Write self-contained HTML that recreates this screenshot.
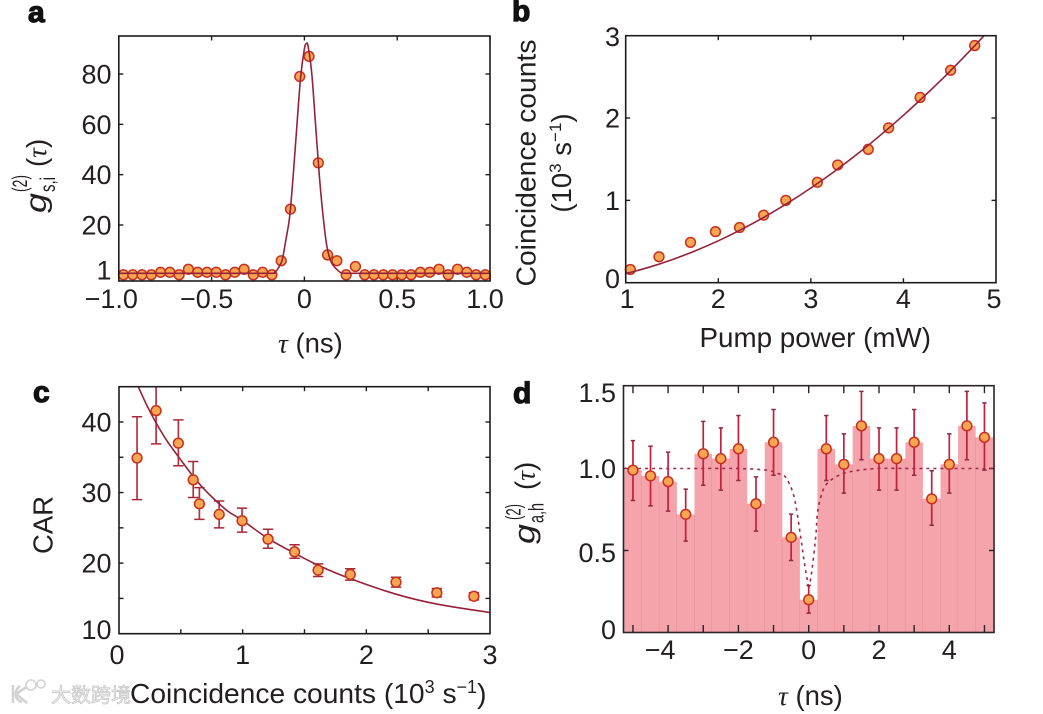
<!DOCTYPE html>
<html lang="en">
<head>
<meta charset="utf-8">
<title>Coincidence measurements</title>
<style>
html,body{margin:0;padding:0;background:#fff;}
svg{display:block;}
text{font-family:"Liberation Sans","Noto Sans CJK SC",sans-serif;fill:#231f20;}
.tick{font-size:27px;}
.lab{font-size:27.5px;}
.letter{font-size:30px;font-weight:bold;stroke:#111;stroke-width:1.2px;fill:#111;}
.gi{font-style:italic;font-size:30px;}
.sm{font-size:21px;}
.tau{font-family:"Liberation Serif",serif;font-style:italic;}
</style>
</head>
<body>
<svg id="fig" xmlns="http://www.w3.org/2000/svg" width="1043" height="714" viewBox="0 0 1043 714">
<rect x="0" y="0" width="1043" height="714" fill="#fff"/>
<defs>
<clipPath id="clip-a"><rect x="119" y="36" width="371" height="245"/></clipPath>
<clipPath id="clip-b"><rect x="625.7" y="35.7" width="370.3" height="247"/></clipPath>
<clipPath id="clip-c"><rect x="119" y="386.7" width="371" height="247"/></clipPath>
<clipPath id="clip-d"><rect x="623.5" y="385.7" width="370.5" height="247"/></clipPath>
</defs>
<g id="panel-a"></g>
<g id="panel-b"></g>
<g id="panel-c"></g>
<g id="panel-d"></g>

<text class="letter" x="28" y="22">a</text>
<text class="letter" x="512" y="21">b</text>
<text class="letter" x="33" y="402">c</text>
<text class="letter" x="513" y="403">d</text>

<g transform="translate(46,213) rotate(-90)">
  <text class="gi" x="0" y="0" textLength="20" lengthAdjust="spacingAndGlyphs">g</text>
  <text class="sm" x="21" y="9" textLength="15" lengthAdjust="spacingAndGlyphs">s,i</text>
  <text class="sm" x="21" y="-19" textLength="17" lengthAdjust="spacingAndGlyphs">(2)</text>
  <text class="lab" x="46" y="0">(<tspan class="tau">τ</tspan>)</text>
</g>
<text class="lab" x="278" y="352.5"><tspan class="tau">τ</tspan> (ns)</text>

<text class="lab" text-anchor="middle" transform="translate(535.5,163) rotate(-90)" textLength="247" lengthAdjust="spacingAndGlyphs">Coincidence counts</text>
<text class="lab" text-anchor="middle" transform="translate(571,163) rotate(-90)">(10<tspan font-size="17" dy="-10">3</tspan><tspan dy="10"> s</tspan><tspan font-size="17" dy="-10">−1</tspan><tspan dy="10">)</tspan></text>
<text class="lab" x="699.5" y="347" textLength="231.5" lengthAdjust="spacingAndGlyphs">Pump power (mW)</text>

<text class="lab" text-anchor="middle" transform="translate(52.5,525) rotate(-90)">CAR</text>

<g>
  <path d="M13 685 L13 703 M28 686 L16 694 L27 703 M20 686 C14 690 14 700 22 702" fill="none" stroke="#d2d2d2" stroke-width="2.6"/>
  <circle cx="31" cy="685" r="5" fill="#fff" stroke="#d2d2d2" stroke-width="1.6"/>
  <circle cx="41" cy="684" r="4" fill="#fff" stroke="#d2d2d2" stroke-width="1.6"/>
  <text x="51" y="702" style="font-size:20px;font-family:'Liberation Sans','Noto Sans CJK SC',sans-serif;fill:#f2f2f2;stroke:#c4c4c4;stroke-width:.7px;">大数跨境</text>
</g>
<text class="lab" x="130" y="703" style="font-size:28.2px">Coincidence counts (10<tspan font-size="18" dy="-10">3</tspan><tspan dy="10"> s</tspan><tspan font-size="18" dy="-10">−1</tspan><tspan dy="10">)</tspan></text>

<g transform="translate(534.5,544) rotate(-90)">
  <text class="gi" x="0" y="0" textLength="20" lengthAdjust="spacingAndGlyphs">g</text>
  <text class="sm" x="21" y="9" textLength="20" lengthAdjust="spacingAndGlyphs">a,h</text>
  <text class="sm" x="24" y="-14" textLength="16" lengthAdjust="spacingAndGlyphs">(2)</text>
  <text class="lab" x="54" y="0">(<tspan class="tau">τ</tspan>)</text>
</g>
<text class="lab" x="778" y="705"><tspan class="tau">τ</tspan> (ns)</text>
</svg>

<script>
// Panel a data
const aTau = [-0.975,-0.925,-0.875,-0.825,-0.775,-0.725,-0.675,-0.625,-0.575,-0.525,-0.475,-0.425,-0.375,-0.325,-0.275,-0.225,-0.175,-0.125,-0.075,-0.025,0.025,0.075,0.125,0.175,0.225,0.275,0.325,0.375,0.425,0.475,0.525,0.575,0.625,0.675,0.725,0.775,0.825,0.875,0.925,0.975];
const aG2 = [0.2,0.2,0.2,0.2,1.2,1.2,0.2,2.4,1.2,1.2,1.2,0.2,1.2,2.4,0.2,1.2,0.2,5.8,26.3,79,87,44.7,8.1,5.8,0.2,3.5,0.2,0.2,0.2,0.2,0.2,0.2,1.2,1.2,2.4,0.2,2.4,1.2,0.2,0.2];
const aFitTau = [-1,-0.6,-0.2,-0.16,-0.14,-0.12,-0.1,-0.08,-0.06,-0.04,-0.02,0,0.01,0.02,0.04,0.06,0.08,0.1,0.12,0.14,0.16,0.18,0.2,0.25,0.6,1];
const aFitG2 = [0.8,0.8,0.8,1.2,3,6,14,23,40,60,79,90,92,91,80,60,40,24,12,6,3.5,2,1,0.8,0.8,0.8];
const aXTicks = [-1,-0.5,0,0.5,1];
const aXLabels = ["−1.0","−0.5","0","0.5","1.0"];
const aYTicks = [20,40,60,80];
const aYLabelValues = [1,20,40,60,80];
const aYLabels = ["1","20","40","60","80"];

// Panel b data
const bPower = [1.05,1.36,1.70,1.97,2.23,2.49,2.73,3.07,3.29,3.62,3.84,4.18,4.51,4.77];
const bCounts = [0.16,0.315,0.49,0.62,0.67,0.82,1.0,1.22,1.43,1.62,1.88,2.25,2.58,2.88];
const bFitPower = [1,1.25,1.5,1.75,2,2.25,2.5,2.75,3,3.25,3.5,3.75,4,4.25,4.5,4.75,4.87];
const bFitCounts = [0.11,0.187,0.279,0.387,0.509,0.647,0.799,0.967,1.15,1.348,1.561,1.79,2.033,2.292,2.565,2.854,3.0];
const bXTicks = [2,3,4];
const bXLabelValues = [1,2,3,4,5];
const bXLabels = ["1","2","3","4","5"];
const bYTicks = [1,2];
const bYLabelValues = [0,1,2,3];
const bYLabels = ["0","1","2","3"];

// Panel c data
const cCounts = [0.146,0.30,0.48,0.60,0.65,0.81,0.995,1.205,1.42,1.61,1.87,2.24,2.57,2.87];
const cCar = [34.9,41.6,37.0,31.8,28.4,26.9,26.0,23.4,21.6,19.0,18.4,17.3,15.8,15.3];
const cHi = [40.75,46.3,40.3,34.4,30.7,28.8,27.8,24.8,22.6,19.9,19.2,18.0,16.4,15.8];
const cLo = [29.0,36.9,33.8,29.3,26.2,25.0,24.4,22.1,20.7,18.1,17.6,16.6,15.2,14.8];
const cFitCounts = [0.156,0.224,0.296,0.385,0.48,0.604,0.709,0.87,0.995,1.205,1.42,1.61,1.87,2.24,2.57,3.0];
const cFitCar = [45,42.4,40.0,37.4,35.1,32.2,30.1,27.5,26.1,23.5,21.4,19.7,17.8,15.6,14.2,13.0];
const cXTicks = [0.5,1,1.5,2,2.5];
const cXLabelValues = [0,1,2,3];
const cXLabels = ["0","1","2","3"];
const cYTicks = [15,20,25,30,35,40];
const cYLabelValues = [10,20,30,40];
const cYLabels = ["10","20","30","40"];

// Panel d data
const dTau = [-5,-4.5,-4,-3.5,-3,-2.5,-2,-1.5,-1,-0.5,0,0.5,1,1.5,2,2.5,3,3.5,4,4.5,5];
const dG2 = [0.99,0.955,0.92,0.72,1.09,1.06,1.12,0.785,1.16,0.58,0.20,1.12,1.025,1.26,1.06,1.06,1.16,0.815,1.025,1.26,1.19];
const dHi = [1.17,1.136,1.10,0.874,1.287,1.248,1.323,0.949,1.36,0.722,0.287,1.323,1.211,1.47,1.248,1.248,1.36,0.986,1.211,1.47,1.4];
const dLo = [0.805,0.772,0.74,0.557,0.898,0.868,0.927,0.618,0.959,0.439,0.118,0.927,0.85,1.053,0.868,0.868,0.959,0.654,0.85,1.053,0.99];
const dFitLeftTau = [-5.25,-3,-2,-1.2,-0.9,-0.67,-0.42,-0.23,-0.12,0];
const dFitLeftG2 = [1,1,1,0.99,0.97,0.95,0.83,0.585,0.42,0.27];
const dFitRightTau = [0,0.08,0.2,0.25,0.35,0.49,0.78,1.17,1.94,3,5.27];
const dFitRightG2 = [0.27,0.36,0.585,0.73,0.83,0.90,0.95,0.98,1,1,1];
const dXTicks = [-5,-4,-3,-2,-1,0,1,2,3,4,5];
const dXLabelValues = [-4,-2,0,2,4];
const dXLabels = ["−4","−2","0","2","4"];
const dYTicks = [0.5,1];
const dYLabelValues = [0,0.5,1,1.5];
const dYLabels = ["0","0.5","1.0","1.5"];

const NS = 'http://www.w3.org/2000/svg';
function linear(d0, d1, r0, r1) {
  return function (v) { return r0 + (v - d0) * (r1 - r0) / (d1 - d0); };
}
function mk(tag, attrs, parent) {
  const el = document.createElementNS(NS, tag);
  Object.keys(attrs).forEach(function (k) { el.setAttribute(k, attrs[k]); });
  parent.appendChild(el);
  return el;
}
function smoothPath(xs, ys, sx, sy) {
  const p = xs.map(function (x, i) { return [sx(x), sy(ys[i])]; });
  let d = 'M' + p[0][0].toFixed(2) + ' ' + p[0][1].toFixed(2);
  for (let i = 0; i < p.length - 1; i++) {
    const a = p[Math.max(0, i - 1)], b = p[i], c = p[i + 1], e = p[Math.min(p.length - 1, i + 2)];
    const c1x = b[0] + (c[0] - a[0]) / 6, c1y = b[1] + (c[1] - a[1]) / 6;
    const c2x = c[0] - (e[0] - b[0]) / 6, c2y = c[1] - (e[1] - b[1]) / 6;
    d += 'C' + c1x.toFixed(2) + ' ' + c1y.toFixed(2) + ' ' + c2x.toFixed(2) + ' ' + c2y.toFixed(2) + ' ' + c[0].toFixed(2) + ' ' + c[1].toFixed(2);
  }
  return d;
}
function drawFrame(g, box, color) {
  const el = mk('rect', {x: box.l, y: box.t, width: box.r - box.l, height: box.b - box.t, fill: 'none', stroke: color, 'stroke-width': 1.6}, g);
  
  
}
function drawXTicks(g, box, ticks, sx, len, color) {
  ticks.forEach(function (t) {
    const x = sx(t);
    const top = mk('line', {x1: x, x2: x, y1: box.t, y2: box.t + len, stroke: color, 'stroke-width': 1.4}, g);
    
    
    const bot = mk('line', {x1: x, x2: x, y1: box.b, y2: box.b - len, stroke: color, 'stroke-width': 1.4}, g);
    
    
  });
}
function drawYTicks(g, box, ticks, sy, len, color) {
  ticks.forEach(function (t) {
    const y = sy(t);
    const lft = mk('line', {x1: box.l, x2: box.l + len, y1: y, y2: y, stroke: color, 'stroke-width': 1.4}, g);
    
    
    const rgt = mk('line', {x1: box.r, x2: box.r - len, y1: y, y2: y, stroke: color, 'stroke-width': 1.4}, g);
    
    
  });
}
function drawXLabels(g, values, labels, sx, baseline, nudge) {
  values.forEach(function (v, i) {
    const el = mk('text', {class: 'tick', x: sx(v) + nudge(v), y: baseline, 'text-anchor': 'middle'}, g);
    
    
    el.textContent = labels[i];
  });
}
function drawYLabels(g, values, labels, sy, right, nudge) {
  values.forEach(function (v, i) {
    const el = mk('text', {class: 'tick', x: right, y: sy(v) + nudge(v) + 9.5, 'text-anchor': 'end'}, g);
    
    
    el.textContent = labels[i];
  });
}
function drawCurve(g, d, clip, color, dash) {
  const attrs = {d: d, fill: 'none', stroke: color, 'stroke-width': 1.6, 'clip-path': 'url(#' + clip + ')'};
  if (dash) { attrs['stroke-dasharray'] = dash; }
  const el = mk('path', attrs, g);
  
  
}
function drawMarkers(g, xs, ys, sx, sy, r) {
  xs.forEach(function (x, i) {
    const el = mk('circle', {cx: sx(x), cy: sy(ys[i]), r: r, fill: '#f9a552', stroke: '#c8301f', 'stroke-width': 1.5}, g);
    
    
  });
}
function drawErrors(g, xs, hi, lo, sx, sy, cap, color, capColor, clip) {
  xs.forEach(function (x, i) {
    const px = sx(x);
    const stem = mk('line', {x1: px, x2: px, y1: sy(hi[i]), y2: sy(lo[i]), stroke: color, 'stroke-width': 1.7, 'clip-path': 'url(#' + clip + ')'}, g);
    
    
    [hi[i], lo[i]].forEach(function (v) {
      const c = mk('line', {x1: px - cap, x2: px + cap, y1: sy(v), y2: sy(v), stroke: capColor, 'stroke-width': 1.5, 'clip-path': 'url(#' + clip + ')'}, g);
      
      
    });
  });
}

// Panel a
(function () {
  const g = document.getElementById('panel-a');
  const box = {l: 118.8, r: 490, t: 36, b: 281};
  const sx = linear(-1, 1, 118.8, 490);
  const sy = linear(20, 80, 225, 74);
  drawXTicks(g, box, aXTicks, sx, 4.5, '#1c1c1c');
  drawYTicks(g, box, aYTicks, sy, 4.5, '#1c1c1c');
  drawMarkers(g, aTau, aG2, sx, sy, 4.9);
  drawCurve(g, smoothPath(aFitTau, aFitG2, sx, sy), 'clip-a', '#96223a');
  drawFrame(g, box, '#1c1c1c');
  drawXLabels(g, aXTicks, aXLabels, sx, 308, function (v) { return v === -1 ? -7.5 : (v === 1 ? -5 : (v === -0.5 ? -5 : 0)); });
  drawYLabels(g, aYLabelValues, aYLabels, sy, 111.5, function (v) { return v === 1 ? -3 : 0; });
})();

// Panel b
(function () {
  const g = document.getElementById('panel-b');
  const box = {l: 625.7, r: 996, t: 35.7, b: 282.7};
  const sx = linear(1, 5, 625.7, 996);
  const sy = linear(0, 3, 282.7, 35.7);
  drawXTicks(g, box, bXTicks, sx, 4.5, '#1c1c1c');
  drawYTicks(g, box, bYTicks, sy, 4.5, '#1c1c1c');
  drawMarkers(g, bPower, bCounts, sx, sy, 4.9);
  drawCurve(g, smoothPath(bFitPower, bFitCounts, sx, sy), 'clip-b', '#96223a');
  drawFrame(g, box, '#1c1c1c');
  drawXLabels(g, bXLabelValues, bXLabels, sx, 308, function (v) { return v === 1 ? 1.5 : (v === 5 ? -2 : 0); });
  drawYLabels(g, bYLabelValues, bYLabels, sy, 620, function (v) { return v === 0 ? -4 : (v === 3 ? 1 : 0); });
})();

// Panel c
(function () {
  const g = document.getElementById('panel-c');
  const box = {l: 119, r: 490, t: 386.7, b: 633.7};
  const sx = linear(0, 3, 119, 490);
  const sy = linear(10, 45, 633.7, 386.7);
  drawXTicks(g, box, cXTicks, sx, 4.5, '#1c1c1c');
  drawYTicks(g, box, cYTicks, sy, 4.5, '#1c1c1c');
  drawErrors(g, cCounts, cHi, cLo, sx, sy, 5.2, '#b5323f', '#a52a3a', 'clip-c');
  drawCurve(g, smoothPath(cFitCounts, cFitCar, sx, sy), 'clip-c', '#96223a');
  drawMarkers(g, cCounts, cCar, sx, sy, 4.9);
  drawFrame(g, box, '#1c1c1c');
  drawXLabels(g, cXLabelValues, cXLabels, sx, 664, function (v) { return v === 0 ? -2 : 0; });
  drawYLabels(g, cYLabelValues, cYLabels, sy, 111.5, function (v) { return v === 10 ? -4 : 0; });
})();

// Panel d
(function () {
  const g = document.getElementById('panel-d');
  const box = {l: 623.5, r: 994, t: 385.7, b: 632.5};
  const sx = linear(0, 1, 808.7, 843.85);
  const sy = linear(0, 1, 632.5, 468.5);
  dTau.forEach(function (t, i) {
    const x0 = Math.max(sx(t - 0.25), box.l);
    const x1 = Math.min(sx(t + 0.25), box.r);
    const bar = mk('rect', {x: x0, y: sy(dG2[i]), width: x1 - x0, height: sy(0) - sy(dG2[i]), fill: '#f4a4aa'}, g);
    
    
    const edge = mk('line', {x1: x1, x2: x1, y1: sy(Math.min(dG2[i], i + 1 < dG2.length ? dG2[i + 1] : 0)), y2: sy(0), stroke: '#df8d96', 'stroke-width': 0.9}, g);
    
    
  });
  drawXTicks(g, box, dXTicks, sx, 7.5, '#2a2426');
  drawYTicks(g, box, dYTicks, sy, 5, '#2a2426');
  drawCurve(g, smoothPath(dFitLeftTau, dFitLeftG2, sx, sy), 'clip-d', '#a3284a', '3 4');
  drawCurve(g, smoothPath(dFitRightTau, dFitRightG2, sx, sy), 'clip-d', '#a3284a', '3 4');
  drawErrors(g, dTau, dHi, dLo, sx, sy, 2.2, '#c41f3c', '#8c2a44', 'clip-d');
  drawMarkers(g, dTau, dG2, sx, sy, 4.9);
  drawFrame(g, box, '#2a2426');
  drawXLabels(g, dXLabelValues, dXLabels, sx, 659, function (v) { return v === -4 ? -8 : 0; });
  drawYLabels(g, dYLabelValues, dYLabels, sy, 616, function (v) { return v === 1.5 ? 6 : (v === 0.5 ? 2 : (v === 0 ? -3 : 0)); });
})();
</script>
</body>
</html>
